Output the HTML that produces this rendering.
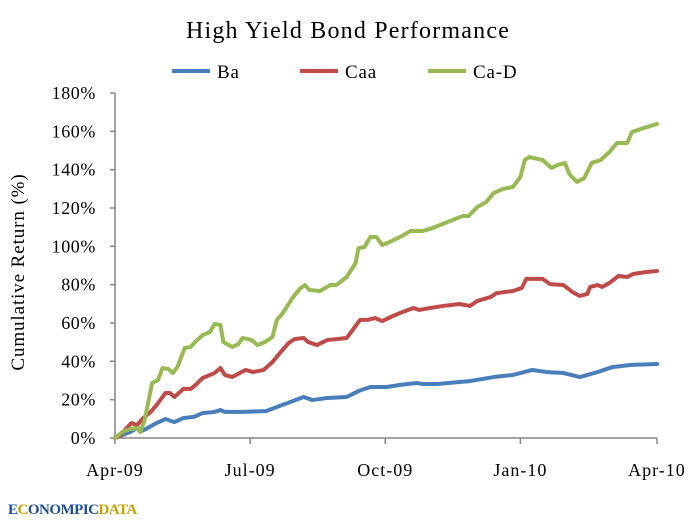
<!DOCTYPE html>
<html><head><meta charset="utf-8"><style>
body{margin:0;background:#fff;width:696px;height:521px;overflow:hidden}
svg text{font-family:"Liberation Serif",serif;fill:#000}
</style></head><body>
<svg id="chart" width="696" height="521" xmlns="http://www.w3.org/2000/svg">
<text x="348" y="38" text-anchor="middle" font-size="24" style="letter-spacing:1.2px">High Yield Bond Performance</text>
<g>
<g><line x1="172" y1="71" x2="210" y2="71" stroke="#4a7ebb" stroke-width="4"/><text x="217" y="78" font-size="19" style="letter-spacing:0.8px">Ba</text></g>
<g><line x1="300" y1="71" x2="338" y2="71" stroke="#be4b48" stroke-width="4"/><text x="345" y="78" font-size="19" style="letter-spacing:0.8px">Caa</text></g>
<g><line x1="428" y1="71" x2="466" y2="71" stroke="#98b954" stroke-width="4"/><text x="473" y="78" font-size="19" style="letter-spacing:0.8px">Ca-D</text></g>
</g>
<text transform="translate(24,272) rotate(-90)" text-anchor="middle" font-size="19" style="letter-spacing:0.9px">Cumulative Return (%)</text>
<g id="axes"></g>
<g id="series"></g>
<text x="8" y="514" font-size="15" font-weight="bold" style="fill:#1f4e8c;letter-spacing:-0.5px">E<tspan style="fill:#c8a000">C</tspan>ONOMPIC<tspan style="fill:#c8a000">DATA</tspan></text>
</svg>
<script>
const xTickLabels=["Apr-09","Jul-09","Oct-09","Jan-10","Apr-10"];
const xTickDays=[0,91,182,273,365];
const yTicks=[0,20,40,60,80,100,120,140,160,180];
const baDays=[0,10,15,18,22,28,34,40,46,53,59,67,71,74,86,102,109,118,127,133,143,156,164,172,183,192,203,207,217,232,239,255,268,281,291,302,313,325,335,347,365];
const baVals=[0,3.1,5.2,3.7,5.2,7.8,9.9,8.3,10.4,11,13,13.6,14.6,13.6,13.6,14.1,16.2,18.8,21.4,19.8,20.9,21.4,24.5,26.6,26.6,27.7,28.7,28.2,28.2,29.2,29.7,31.8,32.9,35.5,34.4,33.9,31.8,34.4,37,38.1,38.6];
const caaDays=[0,3,11,15,19,24,28,34,37,40,46,51,55,59,64,67,71,74,79,84,88,93,100,106,111,117,121,127,130,136,143,149,156,160,165,170,175,180,187,192,201,205,212,221,232,239,244,253,257,268,274,277,288,293,302,308,313,318,320,325,328,333,339,345,349,358,365];
const caaVals=[0,1,7.8,6.8,10.4,13.6,17.2,23.5,23.5,21.4,25.6,25.6,28.2,31.3,32.9,33.9,36.5,32.9,31.8,33.9,35.5,34.4,35.5,39.6,44.3,49.6,51.6,52.2,50.1,48.5,51.1,51.6,52.2,56.3,61.6,61.6,62.6,61,63.6,65.2,67.8,66.8,67.8,68.9,69.9,68.9,71.5,73.6,75.6,76.7,78.3,83,83,80.3,79.8,76.2,74.1,75.1,78.8,79.8,78.8,80.9,84.5,84,85.6,86.6,87.1];
const cadDays=[0,5,10,15,17,20,25,29,32,36,39,42,47,51,54,59,64,67,71,73,79,83,86,92,96,101,106,109,113,120,125,128,131,138,145,149,156,162,164,168,172,176,180,185,192,199,207,212,224,234,238,244,250,255,261,268,273,276,279,288,294,298,303,306,311,316,321,327,333,338,345,348,356,365];
const cadVals=[0,3.1,4.7,5.2,3.1,9.4,28.7,30.3,36.5,36,33.9,37,47,47.5,50.1,53.7,55.3,59.5,59,50.1,47.5,49,52.2,51.1,48.5,50.1,52.7,61.6,65.2,73.6,78.3,79.8,77.2,76.7,79.8,79.8,84,91.3,99.1,99.6,104.9,104.9,100.7,102.3,104.9,108,108,109,112.7,115.8,115.8,120.5,123.1,127.8,129.9,131,136.2,145,146.6,145,140.9,142.4,143.5,137.7,133.6,135.6,143.5,145,149.2,153.9,153.9,159.6,161.7,163.8];

const X0=115,X1=657,Y0=438,Y1=93;
const xs=d=>X0+(X1-X0)*d/365;
const ys=v=>Y0-(Y0-Y1)*v/180;
const NS="http://www.w3.org/2000/svg";
const axes=document.getElementById('axes'),series=document.getElementById('series');
function mk(tag,attrs,parent){const e=document.createElementNS(NS,tag);for(const k in attrs)e.setAttribute(k,attrs[k]);parent.appendChild(e);return e;}
let yl=mk('line',{x1:X0,y1:Y1,x2:X0,y2:Y0,stroke:'#868686','stroke-width':1.5},axes);


let xl=mk('line',{x1:X0,y1:Y0,x2:X1,y2:Y0,stroke:'#868686','stroke-width':1.5},axes);


yTicks.forEach(v=>{
  mk('line',{x1:X0-5,y1:ys(v),x2:X0,y2:ys(v),stroke:'#868686','stroke-width':1.5},axes);
  const t=mk('text',{x:X0-19,y:ys(v)+6,'text-anchor':'end','font-size':18,style:'letter-spacing:0.6px'},axes);
  t.textContent=v+'%';
  
  
});
xTickDays.forEach((d,i)=>{
  mk('line',{x1:xs(d),y1:Y0,x2:xs(d),y2:Y0+6,stroke:'#868686','stroke-width':1.5},axes);
  const t=mk('text',{x:xs(d),y:Y0+38,'text-anchor':'middle','font-size':18,style:'letter-spacing:1px'},axes);
  t.textContent=xTickLabels[i];
  
  
});
function draw(days,vals,color,name){
  const p=mk('polyline',{points:days.map((d,i)=>xs(d)+','+ys(vals[i])).join(' '),fill:'none',stroke:color,'stroke-width':4,'stroke-linejoin':'round','stroke-linecap':'round'},series);
  
  
}
draw(baDays,baVals,'#4a7ebb','ba-line');
draw(caaDays,caaVals,'#be4b48','caa-line');
draw(cadDays,cadVals,'#98b954','ca-d-line');
</script>
</body></html>
